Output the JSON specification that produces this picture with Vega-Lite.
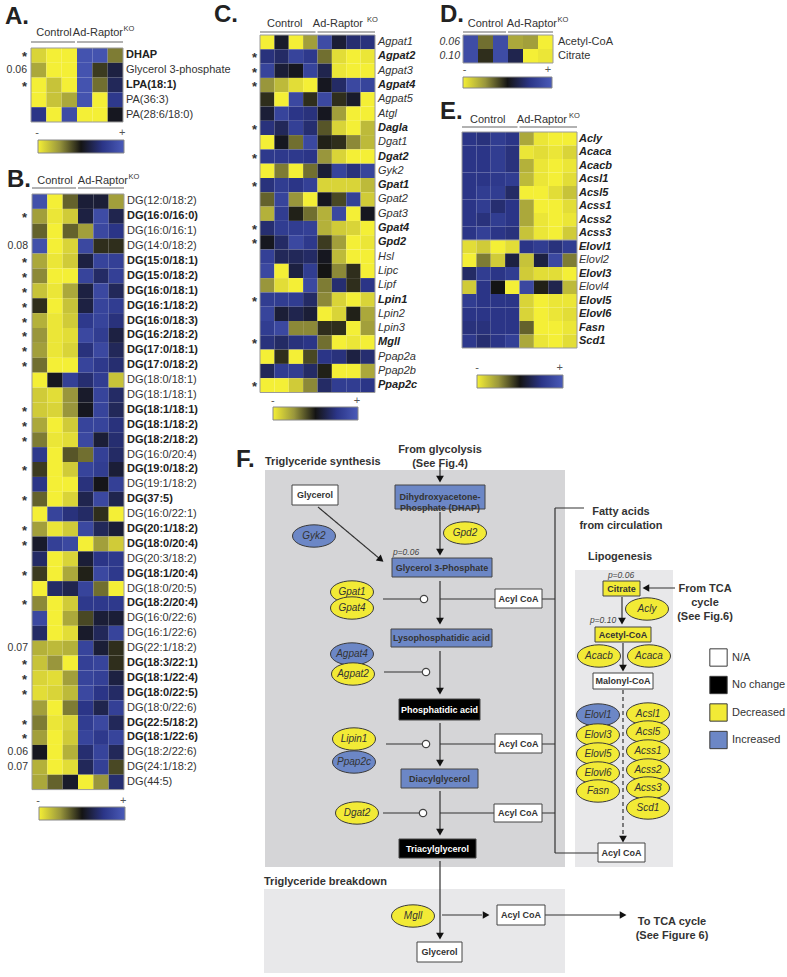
{
"$schema":"https://vega.github.io/schema/vega-lite/v6.json",
"width":787,"height":977,"padding":0,"autosize":{"type":"none"},
"background":"#ffffff",
"config":{"view":{"stroke":null},"font":"Liberation Sans","text":{"font":"Liberation Sans"}},
"datasets":{
"a_cells":[{"r":1,"c":1,"v":-0.85},{"r":1,"c":2,"v":-1},{"r":1,"c":3,"v":-1},{"r":1,"c":4,"v":0.9},{"r":1,"c":5,"v":0.9},{"r":1,"c":6,"v":-0.4},
{"r":2,"c":1,"v":-0.6},{"r":2,"c":2,"v":-1},{"r":2,"c":3,"v":-1},{"r":2,"c":4,"v":0.9},{"r":2,"c":5,"v":-0.15},{"r":2,"c":6,"v":0.2},
{"r":3,"c":1,"v":-1},{"r":3,"c":2,"v":-0.75},{"r":3,"c":3,"v":-1},{"r":3,"c":4,"v":0.9},{"r":3,"c":5,"v":-0.35},{"r":3,"c":6,"v":0.3},
{"r":4,"c":1,"v":-1},{"r":4,"c":2,"v":-0.75},{"r":4,"c":3,"v":-0.6},{"r":4,"c":4,"v":0.9},{"r":4,"c":5,"v":-1},{"r":4,"c":6,"v":0.55},
{"r":5,"c":1,"v":0.5},{"r":5,"c":2,"v":-1},{"r":5,"c":3,"v":0.8},{"r":5,"c":4,"v":-1},{"r":5,"c":5,"v":-1},{"r":5,"c":6,"v":0.05}],
"a_rows":[{"r":1,"name":"DHAP","p":"*","sig":1},{"r":2,"name":"Glycerol 3-phosphate","p":"0.06","sig":0},{"r":3,"name":"LPA(18:1)","p":"*","sig":1},{"r":4,"name":"PA(36:3)","p":"","sig":0},{"r":5,"name":"PA(28:6/18:0)","p":"","sig":0}],
"b_cells":[
{"r":1,"c":1,"v":0.85},{"r":1,"c":2,"v":-1},{"r":1,"c":3,"v":-0.3},{"r":1,"c":4,"v":0.15},{"r":1,"c":5,"v":0.15},{"r":1,"c":6,"v":-0.55},
{"r":2,"c":1,"v":-0.55},{"r":2,"c":2,"v":-0.95},{"r":2,"c":3,"v":-0.8},{"r":2,"c":4,"v":0.2},{"r":2,"c":5,"v":0.8},{"r":2,"c":6,"v":0.25},
{"r":3,"c":1,"v":-0.3},{"r":3,"c":2,"v":-1},{"r":3,"c":3,"v":-0.3},{"r":3,"c":4,"v":-0.55},{"r":3,"c":5,"v":0.75},{"r":3,"c":6,"v":0.5},
{"r":4,"c":1,"v":0.85},{"r":4,"c":2,"v":-1},{"r":4,"c":3,"v":-0.85},{"r":4,"c":4,"v":0.75},{"r":4,"c":5,"v":-0.1},{"r":4,"c":6,"v":-0.1},
{"r":5,"c":1,"v":-0.6},{"r":5,"c":2,"v":-0.95},{"r":5,"c":3,"v":-0.8},{"r":5,"c":4,"v":0.2},{"r":5,"c":5,"v":0.7},{"r":5,"c":6,"v":0.65},
{"r":6,"c":1,"v":-0.45},{"r":6,"c":2,"v":-1},{"r":6,"c":3,"v":-1},{"r":6,"c":4,"v":0.7},{"r":6,"c":5,"v":0.35},{"r":6,"c":6,"v":0.65},
{"r":7,"c":1,"v":-0.75},{"r":7,"c":2,"v":-0.95},{"r":7,"c":3,"v":-0.6},{"r":7,"c":4,"v":0.2},{"r":7,"c":5,"v":0.75},{"r":7,"c":6,"v":0.3},
{"r":8,"c":1,"v":-0.1},{"r":8,"c":2,"v":-1},{"r":8,"c":3,"v":-0.75},{"r":8,"c":4,"v":0.2},{"r":8,"c":5,"v":0.7},{"r":8,"c":6,"v":0.6},
{"r":9,"c":1,"v":-0.65},{"r":9,"c":2,"v":-0.95},{"r":9,"c":3,"v":-0.8},{"r":9,"c":4,"v":0.55},{"r":9,"c":5,"v":0.7},{"r":9,"c":6,"v":0.45},
{"r":10,"c":1,"v":-0.5},{"r":10,"c":2,"v":-0.95},{"r":10,"c":3,"v":-0.9},{"r":10,"c":4,"v":0.75},{"r":10,"c":5,"v":0.6},{"r":10,"c":6,"v":0.2},
{"r":11,"c":1,"v":-0.55},{"r":11,"c":2,"v":-0.95},{"r":11,"c":3,"v":-0.85},{"r":11,"c":4,"v":0.45},{"r":11,"c":5,"v":0.75},{"r":11,"c":6,"v":0.3},
{"r":12,"c":1,"v":-0.35},{"r":12,"c":2,"v":-1},{"r":12,"c":3,"v":-1},{"r":12,"c":4,"v":0.7},{"r":12,"c":5,"v":0.55},{"r":12,"c":6,"v":0.4},
{"r":13,"c":1,"v":-1},{"r":13,"c":2,"v":0.05},{"r":13,"c":3,"v":0.65},{"r":13,"c":4,"v":0.4},{"r":13,"c":5,"v":0.6},{"r":13,"c":6,"v":-0.75},
{"r":14,"c":1,"v":-0.8},{"r":14,"c":2,"v":-0.9},{"r":14,"c":3,"v":-0.5},{"r":14,"c":4,"v":0.1},{"r":14,"c":5,"v":0.7},{"r":14,"c":6,"v":0.35},
{"r":15,"c":1,"v":-0.8},{"r":15,"c":2,"v":-0.85},{"r":15,"c":3,"v":-0.5},{"r":15,"c":4,"v":0.05},{"r":15,"c":5,"v":0.7},{"r":15,"c":6,"v":0.3},
{"r":16,"c":1,"v":-0.6},{"r":16,"c":2,"v":-1},{"r":16,"c":3,"v":-0.8},{"r":16,"c":4,"v":0.7},{"r":16,"c":5,"v":0.7},{"r":16,"c":6,"v":0.45},
{"r":17,"c":1,"v":-0.4},{"r":17,"c":2,"v":-0.95},{"r":17,"c":3,"v":-0.9},{"r":17,"c":4,"v":0.75},{"r":17,"c":5,"v":0.15},{"r":17,"c":6,"v":0.4},
{"r":18,"c":1,"v":0.55},{"r":18,"c":2,"v":-1},{"r":18,"c":3,"v":-0.25},{"r":18,"c":4,"v":-0.35},{"r":18,"c":5,"v":0.65},{"r":18,"c":6,"v":0.35},
{"r":19,"c":1,"v":-0.15},{"r":19,"c":2,"v":-1},{"r":19,"c":3,"v":-0.8},{"r":19,"c":4,"v":0.7},{"r":19,"c":5,"v":0.6},{"r":19,"c":6,"v":0.15},
{"r":20,"c":1,"v":0.5},{"r":20,"c":2,"v":-1},{"r":20,"c":3,"v":-1},{"r":20,"c":4,"v":0.45},{"r":20,"c":5,"v":0.02},{"r":20,"c":6,"v":0.65},
{"r":21,"c":1,"v":-0.3},{"r":21,"c":2,"v":-1},{"r":21,"c":3,"v":-0.85},{"r":21,"c":4,"v":0.25},{"r":21,"c":5,"v":0.75},{"r":21,"c":6,"v":0.25},
{"r":22,"c":1,"v":-1},{"r":22,"c":2,"v":0.7},{"r":22,"c":3,"v":0.45},{"r":22,"c":4,"v":0.35},{"r":22,"c":5,"v":-0.1},{"r":22,"c":6,"v":-1},
{"r":23,"c":1,"v":-0.55},{"r":23,"c":2,"v":-0.95},{"r":23,"c":3,"v":-0.8},{"r":23,"c":4,"v":0.75},{"r":23,"c":5,"v":0.3},{"r":23,"c":6,"v":0.15},
{"r":24,"c":1,"v":0.1},{"r":24,"c":2,"v":0.65},{"r":24,"c":3,"v":0.75},{"r":24,"c":4,"v":-1},{"r":24,"c":5,"v":-0.55},{"r":24,"c":6,"v":-0.8},
{"r":25,"c":1,"v":0.35},{"r":25,"c":2,"v":-1},{"r":25,"c":3,"v":-0.85},{"r":25,"c":4,"v":0.15},{"r":25,"c":5,"v":0.5},{"r":25,"c":6,"v":0.55},
{"r":26,"c":1,"v":-0.15},{"r":26,"c":2,"v":-1},{"r":26,"c":3,"v":-0.6},{"r":26,"c":4,"v":-0.05},{"r":26,"c":5,"v":0.75},{"r":26,"c":6,"v":0.55},
{"r":27,"c":1,"v":-1},{"r":27,"c":2,"v":0.35},{"r":27,"c":3,"v":0.25},{"r":27,"c":4,"v":0.7},{"r":27,"c":5,"v":-0.35},{"r":27,"c":6,"v":-1},
{"r":28,"c":1,"v":-0.45},{"r":28,"c":2,"v":-1},{"r":28,"c":3,"v":-0.8},{"r":28,"c":4,"v":0.55},{"r":28,"c":5,"v":0.55},{"r":28,"c":6,"v":0.55},
{"r":29,"c":1,"v":0.75},{"r":29,"c":2,"v":-1},{"r":29,"c":3,"v":-0.6},{"r":29,"c":4,"v":-0.2},{"r":29,"c":5,"v":0.15},{"r":29,"c":6,"v":0.15},
{"r":30,"c":1,"v":0.35},{"r":30,"c":2,"v":-1},{"r":30,"c":3,"v":-0.9},{"r":30,"c":4,"v":0.1},{"r":30,"c":5,"v":0.3},{"r":30,"c":6,"v":0.7},
{"r":31,"c":1,"v":-0.65},{"r":31,"c":2,"v":-0.7},{"r":31,"c":3,"v":-0.65},{"r":31,"c":4,"v":0.7},{"r":31,"c":5,"v":0.15},{"r":31,"c":6,"v":-0.1},
{"r":32,"c":1,"v":-0.75},{"r":32,"c":2,"v":-0.5},{"r":32,"c":3,"v":-1},{"r":32,"c":4,"v":0.65},{"r":32,"c":5,"v":0.7},{"r":32,"c":6,"v":-0.1},
{"r":33,"c":1,"v":-0.85},{"r":33,"c":2,"v":-0.9},{"r":33,"c":3,"v":-0.55},{"r":33,"c":4,"v":0.7},{"r":33,"c":5,"v":0.65},{"r":33,"c":6,"v":0.2},
{"r":34,"c":1,"v":-0.9},{"r":34,"c":2,"v":-0.85},{"r":34,"c":3,"v":-0.7},{"r":34,"c":4,"v":0.75},{"r":34,"c":5,"v":0.5},{"r":34,"c":6,"v":0.35},
{"r":35,"c":1,"v":-0.55},{"r":35,"c":2,"v":-1},{"r":35,"c":3,"v":-0.4},{"r":35,"c":4,"v":0.5},{"r":35,"c":5,"v":0.25},{"r":35,"c":6,"v":0.65},
{"r":36,"c":1,"v":-0.4},{"r":36,"c":2,"v":-0.95},{"r":36,"c":3,"v":-0.85},{"r":36,"c":4,"v":0.6},{"r":36,"c":5,"v":0.75},{"r":36,"c":6,"v":0.3},
{"r":37,"c":1,"v":-0.55},{"r":37,"c":2,"v":-1},{"r":37,"c":3,"v":-0.8},{"r":37,"c":4,"v":0.7},{"r":37,"c":5,"v":0.55},{"r":37,"c":6,"v":0.7},
{"r":38,"c":1,"v":0.05},{"r":38,"c":2,"v":-1},{"r":38,"c":3,"v":-0.65},{"r":38,"c":4,"v":0.4},{"r":38,"c":5,"v":0.7},{"r":38,"c":6,"v":0.3},
{"r":39,"c":1,"v":-0.65},{"r":39,"c":2,"v":-1},{"r":39,"c":3,"v":-0.9},{"r":39,"c":4,"v":0.3},{"r":39,"c":5,"v":0.65},{"r":39,"c":6,"v":-0.2},
{"r":40,"c":1,"v":-0.6},{"r":40,"c":2,"v":-0.3},{"r":40,"c":3,"v":0.1},{"r":40,"c":4,"v":-1},{"r":40,"c":5,"v":-0.5},{"r":40,"c":6,"v":0.4}],
"b_rows":[{"r":1,"name":"DG(12:0/18:2)","p":"","sig":0},{"r":2,"name":"DG(16:0/16:0)","p":"*","sig":1},{"r":3,"name":"DG(16:0/16:1)","p":"","sig":0},{"r":4,"name":"DG(14:0/18:2)","p":"0.08","sig":0},{"r":5,"name":"DG(15:0/18:1)","p":"*","sig":1},{"r":6,"name":"DG(15:0/18:2)","p":"*","sig":1},{"r":7,"name":"DG(16:0/18:1)","p":"*","sig":1},{"r":8,"name":"DG(16:1/18:2)","p":"*","sig":1},{"r":9,"name":"DG(16:0/18:3)","p":"*","sig":1},{"r":10,"name":"DG(16:2/18:2)","p":"*","sig":1},{"r":11,"name":"DG(17:0/18:1)","p":"*","sig":1},{"r":12,"name":"DG(17:0/18:2)","p":"*","sig":1},{"r":13,"name":"DG(18:0/18:1)","p":"","sig":0},{"r":14,"name":"DG(18:1/18:1)","p":"","sig":0},{"r":15,"name":"DG(18:1/18:1)","p":"*","sig":1},{"r":16,"name":"DG(18:1/18:2)","p":"*","sig":1},{"r":17,"name":"DG(18:2/18:2)","p":"*","sig":1},{"r":18,"name":"DG(16:0/20:4)","p":"","sig":0},{"r":19,"name":"DG(19:0/18:2)","p":"*","sig":1},{"r":20,"name":"DG(19:1/18:2)","p":"","sig":0},{"r":21,"name":"DG(37:5)","p":"*","sig":1},{"r":22,"name":"DG(16:0/22:1)","p":"","sig":0},{"r":23,"name":"DG(20:1/18:2)","p":"*","sig":1},{"r":24,"name":"DG(18:0/20:4)","p":"*","sig":1},{"r":25,"name":"DG(20:3/18:2)","p":"","sig":0},{"r":26,"name":"DG(18:1/20:4)","p":"*","sig":1},{"r":27,"name":"DG(18:0/20:5)","p":"","sig":0},{"r":28,"name":"DG(18:2/20:4)","p":"*","sig":1},{"r":29,"name":"DG(16:0/22:6)","p":"","sig":0},{"r":30,"name":"DG(16:1/22:6)","p":"","sig":0},{"r":31,"name":"DG(22:1/18:2)","p":"0.07","sig":0},{"r":32,"name":"DG(18:3/22:1)","p":"*","sig":1},{"r":33,"name":"DG(18:1/22:4)","p":"*","sig":1},{"r":34,"name":"DG(18:0/22:5)","p":"*","sig":1},{"r":35,"name":"DG(18:0/22:6)","p":"","sig":0},{"r":36,"name":"DG(22:5/18:2)","p":"*","sig":1},{"r":37,"name":"DG(18:1/22:6)","p":"*","sig":1},{"r":38,"name":"DG(18:2/22:6)","p":"0.06","sig":0},{"r":39,"name":"DG(24:1/18:2)","p":"0.07","sig":0},{"r":40,"name":"DG(44:5)","p":"","sig":0}],
"c_cells":[
{"r":1,"c":1,"v":-1},{"r":1,"c":2,"v":0.1},{"r":1,"c":3,"v":-1},{"r":1,"c":4,"v":-0.55},{"r":1,"c":5,"v":0.8},{"r":1,"c":6,"v":0.15},{"r":1,"c":7,"v":0.4},{"r":1,"c":8,"v":0.45},
{"r":2,"c":1,"v":0.45},{"r":2,"c":2,"v":0.35},{"r":2,"c":3,"v":0.7},{"r":2,"c":4,"v":0.55},{"r":2,"c":5,"v":-0.35},{"r":2,"c":6,"v":-0.9},{"r":2,"c":7,"v":-1},{"r":2,"c":8,"v":-0.95},
{"r":3,"c":1,"v":0.7},{"r":3,"c":2,"v":0.15},{"r":3,"c":3,"v":0.05},{"r":3,"c":4,"v":0.7},{"r":3,"c":5,"v":0.25},{"r":3,"c":6,"v":-0.95},{"r":3,"c":7,"v":-1},{"r":3,"c":8,"v":-1},
{"r":4,"c":1,"v":-0.5},{"r":4,"c":2,"v":-0.7},{"r":4,"c":3,"v":-0.9},{"r":4,"c":4,"v":-1},{"r":4,"c":5,"v":0.05},{"r":4,"c":6,"v":0.35},{"r":4,"c":7,"v":0.75},{"r":4,"c":8,"v":0.7},
{"r":5,"c":1,"v":-0.1},{"r":5,"c":2,"v":-1},{"r":5,"c":3,"v":0.75},{"r":5,"c":4,"v":-0.1},{"r":5,"c":5,"v":0.75},{"r":5,"c":6,"v":-0.1},{"r":5,"c":7,"v":0.1},{"r":5,"c":8,"v":-1},
{"r":6,"c":1,"v":0.15},{"r":6,"c":2,"v":0.7},{"r":6,"c":3,"v":0.5},{"r":6,"c":4,"v":0.45},{"r":6,"c":5,"v":0.05},{"r":6,"c":6,"v":-0.55},{"r":6,"c":7,"v":-1},{"r":6,"c":8,"v":-1},
{"r":7,"c":1,"v":0.45},{"r":7,"c":2,"v":0.3},{"r":7,"c":3,"v":0.65},{"r":7,"c":4,"v":0.4},{"r":7,"c":5,"v":-0.25},{"r":7,"c":6,"v":-0.85},{"r":7,"c":7,"v":-1},{"r":7,"c":8,"v":-0.7},
{"r":8,"c":1,"v":-1},{"r":8,"c":2,"v":0.05},{"r":8,"c":3,"v":-0.35},{"r":8,"c":4,"v":0.75},{"r":8,"c":5,"v":-0.05},{"r":8,"c":6,"v":-0.1},{"r":8,"c":7,"v":-0.45},{"r":8,"c":8,"v":-0.7},
{"r":9,"c":1,"v":0.55},{"r":9,"c":2,"v":0.55},{"r":9,"c":3,"v":0.55},{"r":9,"c":4,"v":0.5},{"r":9,"c":5,"v":-0.5},{"r":9,"c":6,"v":-0.85},{"r":9,"c":7,"v":-1},{"r":9,"c":8,"v":-1},
{"r":10,"c":1,"v":-1},{"r":10,"c":2,"v":-0.4},{"r":10,"c":3,"v":-1},{"r":10,"c":4,"v":-0.35},{"r":10,"c":5,"v":0.15},{"r":10,"c":6,"v":0.7},{"r":10,"c":7,"v":0.45},{"r":10,"c":8,"v":0.7},
{"r":11,"c":1,"v":0.45},{"r":11,"c":2,"v":0.6},{"r":11,"c":3,"v":0.5},{"r":11,"c":4,"v":0.65},{"r":11,"c":5,"v":-0.85},{"r":11,"c":6,"v":-0.85},{"r":11,"c":7,"v":-0.85},{"r":11,"c":8,"v":-0.7},
{"r":12,"c":1,"v":-0.3},{"r":12,"c":2,"v":0.7},{"r":12,"c":3,"v":-0.5},{"r":12,"c":4,"v":-1},{"r":12,"c":5,"v":0.05},{"r":12,"c":6,"v":-0.2},{"r":12,"c":7,"v":0.65},{"r":12,"c":8,"v":-0.8},
{"r":13,"c":1,"v":-0.65},{"r":13,"c":2,"v":0.6},{"r":13,"c":3,"v":-0.05},{"r":13,"c":4,"v":-0.35},{"r":13,"c":5,"v":-0.65},{"r":13,"c":6,"v":0.75},{"r":13,"c":7,"v":-1},{"r":13,"c":8,"v":0.05},
{"r":14,"c":1,"v":0.4},{"r":14,"c":2,"v":0.6},{"r":14,"c":3,"v":0.6},{"r":14,"c":4,"v":0.65},{"r":14,"c":5,"v":-0.65},{"r":14,"c":6,"v":-0.8},{"r":14,"c":7,"v":-0.85},{"r":14,"c":8,"v":-1},
{"r":15,"c":1,"v":0.05},{"r":15,"c":2,"v":0.35},{"r":15,"c":3,"v":0.75},{"r":15,"c":4,"v":0.55},{"r":15,"c":5,"v":-0.15},{"r":15,"c":6,"v":-0.55},{"r":15,"c":7,"v":-1},{"r":15,"c":8,"v":-0.95},
{"r":16,"c":1,"v":0.65},{"r":16,"c":2,"v":0.3},{"r":16,"c":3,"v":0.3},{"r":16,"c":4,"v":0.35},{"r":16,"c":5,"v":0.05},{"r":16,"c":6,"v":-0.7},{"r":16,"c":7,"v":-1},{"r":16,"c":8,"v":-1},
{"r":17,"c":1,"v":0.75},{"r":17,"c":2,"v":-1},{"r":17,"c":3,"v":0.2},{"r":17,"c":4,"v":0.6},{"r":17,"c":5,"v":0},{"r":17,"c":6,"v":-0.45},{"r":17,"c":7,"v":-0.1},{"r":17,"c":8,"v":-1},
{"r":18,"c":1,"v":-0.5},{"r":18,"c":2,"v":-0.9},{"r":18,"c":3,"v":-1},{"r":18,"c":4,"v":0.75},{"r":18,"c":5,"v":-0.4},{"r":18,"c":6,"v":0.4},{"r":18,"c":7,"v":-0.1},{"r":18,"c":8,"v":0.5},
{"r":19,"c":1,"v":0.6},{"r":19,"c":2,"v":0.6},{"r":19,"c":3,"v":0.6},{"r":19,"c":4,"v":0.35},{"r":19,"c":5,"v":-0.45},{"r":19,"c":6,"v":-0.85},{"r":19,"c":7,"v":-1},{"r":19,"c":8,"v":-0.85},
{"r":20,"c":1,"v":0.7},{"r":20,"c":2,"v":0.15},{"r":20,"c":3,"v":0.25},{"r":20,"c":4,"v":0.15},{"r":20,"c":5,"v":-1},{"r":20,"c":6,"v":-0.85},{"r":20,"c":7,"v":-0.05},{"r":20,"c":8,"v":-0.6},
{"r":21,"c":1,"v":0.6},{"r":21,"c":2,"v":0.75},{"r":21,"c":3,"v":-0.45},{"r":21,"c":4,"v":-0.45},{"r":21,"c":5,"v":-0.1},{"r":21,"c":6,"v":-0.1},{"r":21,"c":7,"v":-1},{"r":21,"c":8,"v":-0.55},
{"r":22,"c":1,"v":0.45},{"r":22,"c":2,"v":0.35},{"r":22,"c":3,"v":0.45},{"r":22,"c":4,"v":0.5},{"r":22,"c":5,"v":-0.35},{"r":22,"c":6,"v":-1},{"r":22,"c":7,"v":-0.95},{"r":22,"c":8,"v":-1},
{"r":23,"c":1,"v":-1},{"r":23,"c":2,"v":-0.1},{"r":23,"c":3,"v":-1},{"r":23,"c":4,"v":-0.2},{"r":23,"c":5,"v":0.5},{"r":23,"c":6,"v":0.45},{"r":23,"c":7,"v":0.2},{"r":23,"c":8,"v":0.4},
{"r":24,"c":1,"v":0.3},{"r":24,"c":2,"v":0.6},{"r":24,"c":3,"v":0.6},{"r":24,"c":4,"v":0.35},{"r":24,"c":5,"v":-0.05},{"r":24,"c":6,"v":-1},{"r":24,"c":7,"v":-1},{"r":24,"c":8,"v":-0.6},
{"r":25,"c":1,"v":-1},{"r":25,"c":2,"v":-1},{"r":25,"c":3,"v":-0.8},{"r":25,"c":4,"v":-0.45},{"r":25,"c":5,"v":0.35},{"r":25,"c":6,"v":0.6},{"r":25,"c":7,"v":0.6},{"r":25,"c":8,"v":0.5}],
"c_rows":[{"r":1,"name":"Agpat1","p":"","sig":0},{"r":2,"name":"Agpat2","p":"*","sig":1},{"r":3,"name":"Agpat3","p":"*","sig":0},{"r":4,"name":"Agpat4","p":"*","sig":1},{"r":5,"name":"Agpat5","p":"","sig":0},{"r":6,"name":"Atgl","p":"","sig":0},{"r":7,"name":"Dagla","p":"*","sig":1},{"r":8,"name":"Dgat1","p":"","sig":0},{"r":9,"name":"Dgat2","p":"*","sig":1},{"r":10,"name":"Gyk2","p":"","sig":0},{"r":11,"name":"Gpat1","p":"*","sig":1},{"r":12,"name":"Gpat2","p":"","sig":0},{"r":13,"name":"Gpat3","p":"","sig":0},{"r":14,"name":"Gpat4","p":"*","sig":1},{"r":15,"name":"Gpd2","p":"*","sig":1},{"r":16,"name":"Hsl","p":"","sig":0},{"r":17,"name":"Lipc","p":"","sig":0},{"r":18,"name":"Lipf","p":"","sig":0},{"r":19,"name":"Lpin1","p":"*","sig":1},{"r":20,"name":"Lpin2","p":"","sig":0},{"r":21,"name":"Lpin3","p":"","sig":0},{"r":22,"name":"Mgll","p":"*","sig":1},{"r":23,"name":"Ppap2a","p":"","sig":0},{"r":24,"name":"Ppap2b","p":"","sig":0},{"r":25,"name":"Ppap2c","p":"*","sig":1}],
"d_cells":[{"r":1,"c":1,"v":0.8},{"r":1,"c":2,"v":-0.35},{"r":1,"c":3,"v":0.8},{"r":1,"c":4,"v":-0.6},{"r":1,"c":5,"v":-0.55},{"r":1,"c":6,"v":-1},
{"r":2,"c":1,"v":0.8},{"r":2,"c":2,"v":-0.1},{"r":2,"c":3,"v":0.8},{"r":2,"c":4,"v":0.25},{"r":2,"c":5,"v":-1},{"r":2,"c":6,"v":-0.95}],
"d_rows":[{"r":1,"name":"Acetyl-CoA","p":"0.06","sig":0},{"r":2,"name":"Citrate","p":"0.10","sig":0}],
"e_cells":[
{"r":1,"c":1,"v":0.5},{"r":1,"c":2,"v":0.45},{"r":1,"c":3,"v":0.6},{"r":1,"c":4,"v":0.5},{"r":1,"c":5,"v":-0.6},{"r":1,"c":6,"v":-0.95},{"r":1,"c":7,"v":-1},{"r":1,"c":8,"v":-1},
{"r":2,"c":1,"v":0.5},{"r":2,"c":2,"v":0.5},{"r":2,"c":3,"v":0.6},{"r":2,"c":4,"v":0.45},{"r":2,"c":5,"v":-0.95},{"r":2,"c":6,"v":-0.9},{"r":2,"c":7,"v":-0.95},{"r":2,"c":8,"v":-0.85},
{"r":3,"c":1,"v":0.5},{"r":3,"c":2,"v":0.5},{"r":3,"c":3,"v":0.6},{"r":3,"c":4,"v":0.45},{"r":3,"c":5,"v":-0.65},{"r":3,"c":6,"v":-0.95},{"r":3,"c":7,"v":-1},{"r":3,"c":8,"v":-0.95},
{"r":4,"c":1,"v":0.5},{"r":4,"c":2,"v":0.5},{"r":4,"c":3,"v":0.55},{"r":4,"c":4,"v":0.6},{"r":4,"c":5,"v":-0.7},{"r":4,"c":6,"v":-0.95},{"r":4,"c":7,"v":-1},{"r":4,"c":8,"v":-0.9},
{"r":5,"c":1,"v":0.5},{"r":5,"c":2,"v":0.6},{"r":5,"c":3,"v":0.6},{"r":5,"c":4,"v":0.35},{"r":5,"c":5,"v":-1},{"r":5,"c":6,"v":-1},{"r":5,"c":7,"v":-0.9},{"r":5,"c":8,"v":-0.75},
{"r":6,"c":1,"v":0.5},{"r":6,"c":2,"v":0.6},{"r":6,"c":3,"v":0.4},{"r":6,"c":4,"v":0.5},{"r":6,"c":5,"v":-0.6},{"r":6,"c":6,"v":-1},{"r":6,"c":7,"v":-1},{"r":6,"c":8,"v":-0.9},
{"r":7,"c":1,"v":0.5},{"r":7,"c":2,"v":0.45},{"r":7,"c":3,"v":0.6},{"r":7,"c":4,"v":0.5},{"r":7,"c":5,"v":-0.6},{"r":7,"c":6,"v":-0.95},{"r":7,"c":7,"v":-1},{"r":7,"c":8,"v":-0.95},
{"r":8,"c":1,"v":0.5},{"r":8,"c":2,"v":0.65},{"r":8,"c":3,"v":0.5},{"r":8,"c":4,"v":0.45},{"r":8,"c":5,"v":-0.75},{"r":8,"c":6,"v":-0.95},{"r":8,"c":7,"v":-1},{"r":8,"c":8,"v":-0.8},
{"r":9,"c":1,"v":-0.9},{"r":9,"c":2,"v":-0.8},{"r":9,"c":3,"v":-1},{"r":9,"c":4,"v":-0.9},{"r":9,"c":5,"v":0.5},{"r":9,"c":6,"v":0.6},{"r":9,"c":7,"v":0.45},{"r":9,"c":8,"v":0.6},
{"r":10,"c":1,"v":-1},{"r":10,"c":2,"v":-0.4},{"r":10,"c":3,"v":-0.8},{"r":10,"c":4,"v":0.2},{"r":10,"c":5,"v":-0.75},{"r":10,"c":6,"v":0.2},{"r":10,"c":7,"v":0.75},{"r":10,"c":8,"v":-0.4},
{"r":11,"c":1,"v":0.35},{"r":11,"c":2,"v":0.6},{"r":11,"c":3,"v":0.5},{"r":11,"c":4,"v":0.6},{"r":11,"c":5,"v":-0.8},{"r":11,"c":6,"v":-0.9},{"r":11,"c":7,"v":-0.9},{"r":11,"c":8,"v":-1},
{"r":12,"c":1,"v":-0.8},{"r":12,"c":2,"v":0.5},{"r":12,"c":3,"v":0},{"r":12,"c":4,"v":-1},{"r":12,"c":5,"v":0.75},{"r":12,"c":6,"v":-0.05},{"r":12,"c":7,"v":0.25},{"r":12,"c":8,"v":-0.7},
{"r":13,"c":1,"v":0.6},{"r":13,"c":2,"v":0.5},{"r":13,"c":3,"v":0.5},{"r":13,"c":4,"v":0.5},{"r":13,"c":5,"v":-0.85},{"r":13,"c":6,"v":-1},{"r":13,"c":7,"v":-0.95},{"r":13,"c":8,"v":-0.95},
{"r":14,"c":1,"v":0.5},{"r":14,"c":2,"v":0.5},{"r":14,"c":3,"v":0.5},{"r":14,"c":4,"v":0.5},{"r":14,"c":5,"v":-0.85},{"r":14,"c":6,"v":-1},{"r":14,"c":7,"v":-0.95},{"r":14,"c":8,"v":-0.9},
{"r":15,"c":1,"v":0.45},{"r":15,"c":2,"v":0.45},{"r":15,"c":3,"v":0.5},{"r":15,"c":4,"v":0.5},{"r":15,"c":5,"v":-0.3},{"r":15,"c":6,"v":-1},{"r":15,"c":7,"v":-1},{"r":15,"c":8,"v":-0.95},
{"r":16,"c":1,"v":0.55},{"r":16,"c":2,"v":0.4},{"r":16,"c":3,"v":0.5},{"r":16,"c":4,"v":0.65},{"r":16,"c":5,"v":-0.6},{"r":16,"c":6,"v":-0.95},{"r":16,"c":7,"v":-1},{"r":16,"c":8,"v":-0.9}],
"e_rows":[{"r":1,"name":"Acly","sig":1},{"r":2,"name":"Acaca","sig":1},{"r":3,"name":"Acacb","sig":1},{"r":4,"name":"Acsl1","sig":1},{"r":5,"name":"Acsl5","sig":1},{"r":6,"name":"Acss1","sig":1},{"r":7,"name":"Acss2","sig":1},{"r":8,"name":"Acss3","sig":1},{"r":9,"name":"Elovl1","sig":1},{"r":10,"name":"Elovl2","sig":0},{"r":11,"name":"Elovl3","sig":1},{"r":12,"name":"Elovl4","sig":0},{"r":13,"name":"Elovl5","sig":1},{"r":14,"name":"Elovl6","sig":1},{"r":15,"name":"Fasn","sig":1},{"r":16,"name":"Scd1","sig":1}],
"f_bg":[{"kind":"synthesis","x":265,"x2":565,"y":470,"y2":867},{"kind":"breakdown","x":264,"x2":565,"y":889,"y2":973},{"kind":"lipogenesis","x":575,"x2":673,"y":570,"y2":867}],
"f_lines":[{"x":440,"y":465,"x2":440,"y2":478,"style":"solid"},{"x":440,"y":512,"x2":440,"y2":549,"style":"solid"},{"x":318,"y":507,"x2":380,"y2":559,"style":"solid"},{"x":440,"y":581,"x2":440,"y2":618,"style":"solid"},{"x":440,"y":651,"x2":440,"y2":688,"style":"solid"},{"x":440,"y":723,"x2":440,"y2":761,"style":"solid"},{"x":440,"y":791,"x2":440,"y2":829,"style":"solid"},{"x":440,"y":861,"x2":440,"y2":933,"style":"solid"},
{"x":383,"y":599,"x2":420,"y2":599,"style":"solid"},{"x":384,"y":672,"x2":422,"y2":672,"style":"solid"},{"x":386,"y":744,"x2":422,"y2":744,"style":"solid"},{"x":383,"y":813,"x2":419,"y2":813,"style":"solid"},
{"x":440,"y":599,"x2":495,"y2":599,"style":"solid"},{"x":440,"y":744,"x2":495,"y2":744,"style":"solid"},{"x":440,"y":813,"x2":494,"y2":813,"style":"solid"},
{"x":542,"y":599,"x2":555,"y2":599,"style":"solid"},{"x":542,"y":744,"x2":555,"y2":744,"style":"solid"},{"x":542,"y":813,"x2":555,"y2":813,"style":"solid"},
{"x":555,"y":508,"x2":555,"y2":853,"style":"solid"},{"x":555,"y":508,"x2":584,"y2":508,"style":"solid"},{"x":555,"y":853,"x2":598,"y2":853,"style":"solid"},
{"x":442,"y":915,"x2":482,"y2":915,"style":"solid"},{"x":545,"y":915,"x2":620,"y2":915,"style":"solid"},
{"x":675,"y":588,"x2":648,"y2":588,"style":"solid"},{"x":622,"y":597,"x2":622,"y2":618,"style":"solid"},{"x":623,"y":643,"x2":623,"y2":665,"style":"solid"},{"x":623,"y":690,"x2":623,"y2":834,"style":"dashed"}],
"f_heads":[{"x":440,"y":478,"a":180},{"x":440,"y":551,"a":180},{"x":380,"y":559,"a":130},{"x":440,"y":620,"a":180},{"x":440,"y":690,"a":180},{"x":440,"y":762,"a":180},{"x":440,"y":831,"a":180},{"x":440,"y":935,"a":180},{"x":485,"y":915,"a":90},{"x":622,"y":915,"a":90},{"x":647,"y":588,"a":270},{"x":622,"y":620,"a":180},{"x":623,"y":667,"a":180},{"x":623,"y":838,"a":180}],
"f_circ":[{"x":424,"y":599},{"x":426,"y":672},{"x":426,"y":744},{"x":423,"y":813}],
"f_boxes":[{"label":"Glycerol","x":292,"x2":338,"y":485,"y2":505,"cx":315,"cy":495,"state":"N/A"},
{"label":"Dihydroxyacetone-\nPhosphate (DHAP)","x":395,"x2":485,"y":485,"y2":509,"cx":440,"cy":497,"state":"Increased"},
{"label":"Glycerol 3-Phosphate","x":392,"x2":492,"y":558,"y2":577,"cx":442,"cy":567.5,"state":"Increased"},
{"label":"Lysophosphatidic acid","x":391,"x2":492,"y":629,"y2":647,"cx":441.5,"cy":638,"state":"Increased"},
{"label":"Phosphatidic acid","x":399,"x2":480,"y":699,"y2":720,"cx":439.5,"cy":709.5,"state":"No change"},
{"label":"Diacylglycerol","x":401,"x2":478,"y":769,"y2":788,"cx":439.5,"cy":778.5,"state":"Increased"},
{"label":"Triacylglycerol","x":399,"x2":476,"y":839,"y2":858,"cx":437.5,"cy":848.5,"state":"No change"},
{"label":"Glycerol","x":417,"x2":462,"y":942,"y2":962,"cx":439.5,"cy":952,"state":"N/A"},
{"label":"Acyl CoA","x":495,"x2":542,"y":589,"y2":608,"cx":518.5,"cy":598.5,"state":"N/A"},
{"label":"Acyl CoA","x":495,"x2":542,"y":734,"y2":753,"cx":518.5,"cy":743.5,"state":"N/A"},
{"label":"Acyl CoA","x":494,"x2":542,"y":804,"y2":822,"cx":518,"cy":813,"state":"N/A"},
{"label":"Acyl CoA","x":497,"x2":545,"y":905,"y2":925,"cx":521,"cy":915,"state":"N/A"},
{"label":"Citrate","x":603,"x2":640,"y":581,"y2":596,"cx":621.5,"cy":588.5,"state":"Decreased"},
{"label":"Acetyl-CoA","x":595,"x2":651,"y":627,"y2":642,"cx":623,"cy":634.5,"state":"Decreased"},
{"label":"Malonyl-CoA","x":593,"x2":653,"y":673,"y2":689,"cx":623,"cy":681,"state":"N/A"},
{"label":"Acyl CoA","x":598,"x2":645,"y":843,"y2":862,"cx":621.5,"cy":852.5,"state":"N/A"}],
"f_ell":[{"name":"Gyk2","cx":314,"cy":536,"state":"Increased"},{"name":"Gpd2","cx":465,"cy":533,"state":"Decreased"},{"name":"Gpat1","cx":352,"cy":592,"state":"Decreased"},{"name":"Gpat4","cx":352,"cy":608,"state":"Decreased"},{"name":"Agpat4","cx":352,"cy":654,"state":"Increased"},{"name":"Agpat2","cx":353,"cy":674,"state":"Decreased"},{"name":"Lipin1","cx":354,"cy":739,"state":"Decreased"},{"name":"Ppap2c","cx":354,"cy":762,"state":"Increased"},{"name":"Dgat2","cx":357,"cy":813,"state":"Decreased"},{"name":"Mgll","cx":413,"cy":916,"state":"Decreased"},{"name":"Acly","cx":647,"cy":609,"state":"Decreased"},{"name":"Acacb","cx":599,"cy":656,"state":"Decreased"},{"name":"Acaca","cx":649,"cy":656,"state":"Decreased"},{"name":"Elovl1","cx":598,"cy":715,"state":"Increased"},{"name":"Elovl3","cx":598,"cy":735,"state":"Decreased"},{"name":"Elovl5","cx":598,"cy":754,"state":"Decreased"},{"name":"Elovl6","cx":598,"cy":773,"state":"Decreased"},{"name":"Fasn","cx":598,"cy":791,"state":"Decreased"},{"name":"Acsl1","cx":648,"cy":714,"state":"Decreased"},{"name":"Acsl5","cx":648,"cy":732,"state":"Decreased"},{"name":"Acss1","cx":648,"cy":751,"state":"Decreased"},{"name":"Acss2","cx":648,"cy":770,"state":"Decreased"},{"name":"Acss3","cx":648,"cy":788,"state":"Decreased"},{"name":"Scd1","cx":648,"cy":808,"state":"Decreased"}],
"f_text":[{"t":"A.","x":5,"y":17,"kind":"letter"},{"t":"B.","x":7,"y":180,"kind":"letter"},{"t":"C.","x":214,"y":15,"kind":"letter"},{"t":"D.","x":440,"y":15,"kind":"letter"},{"t":"E.","x":440,"y":112,"kind":"letter"},{"t":"F.","x":236,"y":460,"kind":"letter"},
{"t":"Triglyceride synthesis","x":265,"y":462,"kind":"hl"},{"t":"Triglyceride breakdown","x":264,"y":882,"kind":"hl"},
{"t":"From glycolysis\n(See Fig.4)","x":440,"y":450,"kind":"hc"},{"t":"Fatty acids\nfrom circulation","x":621,"y":511.5,"kind":"hc"},{"t":"Lipogenesis","x":620,"y":557,"kind":"hc"},{"t":"From TCA\ncycle\n(See Fig.6)","x":705,"y":589,"kind":"hc"},{"t":"To TCA cycle\n(See Figure 6)","x":672,"y":922,"kind":"hc"},
{"t":"p=0.06","x":406,"y":552,"kind":"pv"},{"t":"p=0.06","x":621,"y":575,"kind":"pv"},{"t":"p=0.10","x":603,"y":620,"kind":"pv"}]
},
"resolve":{"scale":{"x":"independent","y":"independent","color":"independent","fill":"independent"},"axis":{"x":"independent","y":"independent"},"legend":{"color":"independent","fill":"independent"}},
"layer":[
{"layer":[
 {"data":{"name":"a_cells"},"mark":{"type":"rect"},"encoding":{
  "x":{"field":"c","type":"ordinal","axis":null,"scale":{"range":[31,123],"paddingInner":0,"paddingOuter":0}},
  "y":{"field":"r","type":"ordinal","axis":null,"scale":{"range":[48,122],"paddingInner":0,"paddingOuter":0}},
  "color":{"field":"v","type":"quantitative","scale":{"type":"linear","domain":[-1,-0.5,0,0.5,1],"range":["#f4ef36","#99963c","#141414","#2b3587","#4a5bb9"],"interpolate":"rgb"},
   "legend":{"orient":"none","legendX":38,"legendY":140,"direction":"horizontal","gradientLength":86,"gradientThickness":13,"title":null,"labelExpr":"''","padding":0,"gradientStrokeColor":"#888888","gradientStrokeWidth":1}}}},
 {"data":{"values":[{}]},"mark":{"type":"rect","fill":"transparent","stroke":"#9a9a9a","strokeWidth":1},"encoding":{"x":{"datum":1,"type":"ordinal","bandPosition":0,"axis":null},"x2":{"datum":6,"bandPosition":1},"y":{"datum":1,"type":"ordinal","bandPosition":0,"axis":null},"y2":{"datum":5,"bandPosition":1}}},
 {"data":{"name":"a_rows"},"transform":[{"filter":"datum.sig == 1"}],"mark":{"type":"text","align":"left","baseline":"middle","dx":3,"fontSize":11,"fontWeight":"bold","color":"#222222"},"encoding":{"x":{"datum":6,"type":"ordinal","bandPosition":1,"axis":null},"y":{"field":"r","type":"ordinal","axis":null},"text":{"field":"name"}}},
 {"data":{"name":"a_rows"},"transform":[{"filter":"datum.sig == 0"}],"mark":{"type":"text","align":"left","baseline":"middle","dx":3,"fontSize":11,"color":"#333333"},"encoding":{"x":{"datum":6,"type":"ordinal","bandPosition":1,"axis":null},"y":{"field":"r","type":"ordinal","axis":null},"text":{"field":"name"}}},
 {"data":{"name":"a_rows"},"transform":[{"filter":"datum.p == '*'"}],"mark":{"type":"text","align":"right","baseline":"middle","dx":-4,"dy":2,"fontSize":13,"fontWeight":"bold","color":"#333333"},"encoding":{"x":{"datum":1,"type":"ordinal","bandPosition":0,"axis":null},"y":{"field":"r","type":"ordinal","axis":null},"text":{"field":"p"}}},
 {"data":{"name":"a_rows"},"transform":[{"filter":"datum.p != '*' && datum.p != ''"}],"mark":{"type":"text","align":"right","baseline":"middle","dx":-4,"fontSize":10.5,"color":"#333333"},"encoding":{"x":{"datum":1,"type":"ordinal","bandPosition":0,"axis":null},"y":{"field":"r","type":"ordinal","axis":null},"text":{"field":"p"}}},
 {"data":{"values":[{}]},"mark":{"type":"text","text":"Control","fontSize":11,"baseline":"middle","dy":-15,"color":"#333333"},"encoding":{"x":{"datum":2,"type":"ordinal","axis":null},"y":{"datum":1,"type":"ordinal","bandPosition":0,"axis":null}}},
 {"data":{"values":[{}]},"mark":{"type":"text","text":"Ad-Raptor","fontSize":11,"align":"right","baseline":"middle","dy":-15,"dx":0,"color":"#333333"},"encoding":{"x":{"datum":6,"type":"ordinal","bandPosition":1,"axis":null},"y":{"datum":1,"type":"ordinal","bandPosition":0,"axis":null}}},
 {"data":{"values":[{}]},"mark":{"type":"text","text":"KO","fontSize":7.5,"align":"left","baseline":"middle","dy":-19,"dx":0.5,"color":"#333333"},"encoding":{"x":{"datum":6,"type":"ordinal","bandPosition":1,"axis":null},"y":{"datum":1,"type":"ordinal","bandPosition":0,"axis":null}}},
 {"data":{"values":[{}]},"mark":{"type":"rule","color":"#999999","strokeWidth":1.5,"yOffset":-6,"x2Offset":-2},"encoding":{"x":{"datum":1,"type":"ordinal","bandPosition":0,"axis":null},"x2":{"datum":3,"bandPosition":1},"y":{"datum":1,"type":"ordinal","bandPosition":0,"axis":null}}},
 {"data":{"values":[{}]},"mark":{"type":"rule","color":"#999999","strokeWidth":1.5,"yOffset":-6},"encoding":{"x":{"datum":4,"type":"ordinal","bandPosition":0,"axis":null},"x2":{"datum":6,"bandPosition":1},"y":{"datum":1,"type":"ordinal","bandPosition":0,"axis":null}}},
 {"data":{"values":[{}]},"mark":{"type":"text","text":"-","fontSize":11,"baseline":"middle","dy":11,"color":"#555555"},"encoding":{"x":{"datum":1,"type":"ordinal","bandPosition":0.4,"axis":null},"y":{"datum":5,"type":"ordinal","bandPosition":1,"axis":null}}},
 {"data":{"values":[{}]},"mark":{"type":"text","text":"+","fontSize":11,"baseline":"middle","dy":11,"color":"#555555"},"encoding":{"x":{"datum":6,"type":"ordinal","bandPosition":0.95,"axis":null},"y":{"datum":5,"type":"ordinal","bandPosition":1,"axis":null}}}
]},
{"layer":[
 {"data":{"name":"b_cells"},"mark":{"type":"rect"},"encoding":{
  "x":{"field":"c","type":"ordinal","axis":null,"scale":{"range":[32,124],"paddingInner":0,"paddingOuter":0}},
  "y":{"field":"r","type":"ordinal","axis":null,"scale":{"range":[194,789.6],"paddingInner":0,"paddingOuter":0}},
  "color":{"field":"v","type":"quantitative","scale":{"type":"linear","domain":[-1,-0.5,0,0.5,1],"range":["#f4ef36","#99963c","#141414","#2b3587","#4a5bb9"],"interpolate":"rgb"},
   "legend":{"orient":"none","legendX":39,"legendY":807,"direction":"horizontal","gradientLength":86,"gradientThickness":13,"title":null,"labelExpr":"''","padding":0,"gradientStrokeColor":"#888888","gradientStrokeWidth":1}}}},
 {"data":{"values":[{}]},"mark":{"type":"rect","fill":"transparent","stroke":"#9a9a9a","strokeWidth":1},"encoding":{"x":{"datum":1,"type":"ordinal","bandPosition":0,"axis":null},"x2":{"datum":6,"bandPosition":1},"y":{"datum":1,"type":"ordinal","bandPosition":0,"axis":null},"y2":{"datum":40,"bandPosition":1}}},
 {"data":{"name":"b_rows"},"transform":[{"filter":"datum.sig == 1"}],"mark":{"type":"text","align":"left","baseline":"middle","dx":3,"fontSize":11,"fontWeight":"bold","color":"#222222"},"encoding":{"x":{"datum":6,"type":"ordinal","bandPosition":1,"axis":null},"y":{"field":"r","type":"ordinal","axis":null},"text":{"field":"name"}}},
 {"data":{"name":"b_rows"},"transform":[{"filter":"datum.sig == 0"}],"mark":{"type":"text","align":"left","baseline":"middle","dx":3,"fontSize":11,"color":"#333333"},"encoding":{"x":{"datum":6,"type":"ordinal","bandPosition":1,"axis":null},"y":{"field":"r","type":"ordinal","axis":null},"text":{"field":"name"}}},
 {"data":{"name":"b_rows"},"transform":[{"filter":"datum.p == '*'"}],"mark":{"type":"text","align":"right","baseline":"middle","dx":-5,"dy":2,"fontSize":13,"fontWeight":"bold","color":"#333333"},"encoding":{"x":{"datum":1,"type":"ordinal","bandPosition":0,"axis":null},"y":{"field":"r","type":"ordinal","axis":null},"text":{"field":"p"}}},
 {"data":{"name":"b_rows"},"transform":[{"filter":"datum.p != '*' && datum.p != ''"}],"mark":{"type":"text","align":"right","baseline":"middle","dx":-4,"fontSize":10.5,"color":"#333333"},"encoding":{"x":{"datum":1,"type":"ordinal","bandPosition":0,"axis":null},"y":{"field":"r","type":"ordinal","axis":null},"text":{"field":"p"}}},
 {"data":{"values":[{}]},"mark":{"type":"text","text":"Control","fontSize":11,"baseline":"middle","dy":-13,"color":"#333333"},"encoding":{"x":{"datum":2,"type":"ordinal","axis":null},"y":{"datum":1,"type":"ordinal","bandPosition":0,"axis":null}}},
 {"data":{"values":[{}]},"mark":{"type":"text","text":"Ad-Raptor","fontSize":11,"align":"right","baseline":"middle","dy":-13,"dx":4,"color":"#333333"},"encoding":{"x":{"datum":6,"type":"ordinal","bandPosition":1,"axis":null},"y":{"datum":1,"type":"ordinal","bandPosition":0,"axis":null}}},
 {"data":{"values":[{}]},"mark":{"type":"text","text":"KO","fontSize":7.5,"align":"left","baseline":"middle","dy":-17,"dx":4.5,"color":"#333333"},"encoding":{"x":{"datum":6,"type":"ordinal","bandPosition":1,"axis":null},"y":{"datum":1,"type":"ordinal","bandPosition":0,"axis":null}}},
 {"data":{"values":[{}]},"mark":{"type":"rule","color":"#999999","strokeWidth":1.5,"yOffset":-6,"x2Offset":-2},"encoding":{"x":{"datum":1,"type":"ordinal","bandPosition":0,"axis":null},"x2":{"datum":3,"bandPosition":1},"y":{"datum":1,"type":"ordinal","bandPosition":0,"axis":null}}},
 {"data":{"values":[{}]},"mark":{"type":"rule","color":"#999999","strokeWidth":1.5,"yOffset":-6},"encoding":{"x":{"datum":4,"type":"ordinal","bandPosition":0,"axis":null},"x2":{"datum":6,"bandPosition":1},"y":{"datum":1,"type":"ordinal","bandPosition":0,"axis":null}}},
 {"data":{"values":[{}]},"mark":{"type":"text","text":"-","fontSize":11,"baseline":"middle","dy":11,"color":"#555555"},"encoding":{"x":{"datum":1,"type":"ordinal","bandPosition":0.4,"axis":null},"y":{"datum":40,"type":"ordinal","bandPosition":1,"axis":null}}},
 {"data":{"values":[{}]},"mark":{"type":"text","text":"+","fontSize":11,"baseline":"middle","dy":11,"color":"#555555"},"encoding":{"x":{"datum":6,"type":"ordinal","bandPosition":0.95,"axis":null},"y":{"datum":40,"type":"ordinal","bandPosition":1,"axis":null}}}
]},
{"layer":[
 {"data":{"name":"c_cells"},"mark":{"type":"rect"},"encoding":{
  "x":{"field":"c","type":"ordinal","axis":null,"scale":{"range":[260,375],"paddingInner":0,"paddingOuter":0}},
  "y":{"field":"r","type":"ordinal","axis":null,"scale":{"range":[35,392.5],"paddingInner":0,"paddingOuter":0}},
  "color":{"field":"v","type":"quantitative","scale":{"type":"linear","domain":[-1,-0.5,0,0.5,1],"range":["#f4ef36","#99963c","#141414","#2b3587","#4a5bb9"],"interpolate":"rgb"},
   "legend":{"orient":"none","legendX":273,"legendY":407,"direction":"horizontal","gradientLength":85,"gradientThickness":13,"title":null,"labelExpr":"''","padding":0,"gradientStrokeColor":"#888888","gradientStrokeWidth":1}}}},
 {"data":{"values":[{}]},"mark":{"type":"rect","fill":"transparent","stroke":"#9a9a9a","strokeWidth":1},"encoding":{"x":{"datum":1,"type":"ordinal","bandPosition":0,"axis":null},"x2":{"datum":8,"bandPosition":1},"y":{"datum":1,"type":"ordinal","bandPosition":0,"axis":null},"y2":{"datum":25,"bandPosition":1}}},
 {"data":{"name":"c_rows"},"transform":[{"filter":"datum.sig == 1"}],"mark":{"type":"text","align":"left","baseline":"middle","dx":3,"fontSize":11,"fontWeight":"bold","fontStyle":"italic","color":"#222222"},"encoding":{"x":{"datum":8,"type":"ordinal","bandPosition":1,"axis":null},"y":{"field":"r","type":"ordinal","axis":null},"text":{"field":"name"}}},
 {"data":{"name":"c_rows"},"transform":[{"filter":"datum.sig == 0"}],"mark":{"type":"text","align":"left","baseline":"middle","dx":3,"fontSize":11,"fontStyle":"italic","color":"#333333"},"encoding":{"x":{"datum":8,"type":"ordinal","bandPosition":1,"axis":null},"y":{"field":"r","type":"ordinal","axis":null},"text":{"field":"name"}}},
 {"data":{"name":"c_rows"},"transform":[{"filter":"datum.p == '*'"}],"mark":{"type":"text","align":"right","baseline":"middle","dx":-3,"dy":2,"fontSize":13,"fontWeight":"bold","color":"#333333"},"encoding":{"x":{"datum":1,"type":"ordinal","bandPosition":0,"axis":null},"y":{"field":"r","type":"ordinal","axis":null},"text":{"field":"p"}}},
 {"data":{"values":[{}]},"mark":{"type":"text","text":"Control","fontSize":11,"baseline":"middle","dy":-11,"dx":-4,"color":"#333333"},"encoding":{"x":{"datum":2,"type":"ordinal","bandPosition":1,"axis":null},"y":{"datum":1,"type":"ordinal","bandPosition":0,"axis":null}}},
 {"data":{"values":[{}]},"mark":{"type":"text","text":"Ad-Raptor","fontSize":11,"align":"right","baseline":"middle","dy":-11,"dx":-12,"color":"#333333"},"encoding":{"x":{"datum":8,"type":"ordinal","bandPosition":1,"axis":null},"y":{"datum":1,"type":"ordinal","bandPosition":0,"axis":null}}},
 {"data":{"values":[{}]},"mark":{"type":"text","text":"KO","fontSize":7.5,"align":"left","baseline":"middle","dy":-15,"dx":-8,"color":"#333333"},"encoding":{"x":{"datum":8,"type":"ordinal","bandPosition":1,"axis":null},"y":{"datum":1,"type":"ordinal","bandPosition":0,"axis":null}}},
 {"data":{"values":[{}]},"mark":{"type":"rule","color":"#999999","strokeWidth":1.5,"yOffset":-3,"x2Offset":-2},"encoding":{"x":{"datum":1,"type":"ordinal","bandPosition":0,"axis":null},"x2":{"datum":4,"bandPosition":1},"y":{"datum":1,"type":"ordinal","bandPosition":0,"axis":null}}},
 {"data":{"values":[{}]},"mark":{"type":"rule","color":"#999999","strokeWidth":1.5,"yOffset":-3},"encoding":{"x":{"datum":5,"type":"ordinal","bandPosition":0,"axis":null},"x2":{"datum":8,"bandPosition":1},"y":{"datum":1,"type":"ordinal","bandPosition":0,"axis":null}}},
 {"data":{"values":[{}]},"mark":{"type":"text","text":"-","fontSize":11,"baseline":"middle","dy":8,"color":"#555555"},"encoding":{"x":{"datum":1,"type":"ordinal","bandPosition":0.9,"axis":null},"y":{"datum":25,"type":"ordinal","bandPosition":1,"axis":null}}},
 {"data":{"values":[{}]},"mark":{"type":"text","text":"+","fontSize":11,"baseline":"middle","dy":8,"color":"#555555"},"encoding":{"x":{"datum":7,"type":"ordinal","bandPosition":0.75,"axis":null},"y":{"datum":25,"type":"ordinal","bandPosition":1,"axis":null}}}
]},
{"layer":[
 {"data":{"name":"d_cells"},"mark":{"type":"rect"},"encoding":{
  "x":{"field":"c","type":"ordinal","axis":null,"scale":{"range":[463,553],"paddingInner":0,"paddingOuter":0}},
  "y":{"field":"r","type":"ordinal","axis":null,"scale":{"range":[35,63],"paddingInner":0,"paddingOuter":0}},
  "color":{"field":"v","type":"quantitative","scale":{"type":"linear","domain":[-1,-0.5,0,0.5,1],"range":["#f4ef36","#99963c","#141414","#2b3587","#4a5bb9"],"interpolate":"rgb"},
   "legend":{"orient":"none","legendX":463,"legendY":77,"direction":"horizontal","gradientLength":89,"gradientThickness":11,"title":null,"labelExpr":"''","padding":0,"gradientStrokeColor":"#888888","gradientStrokeWidth":1}}}},
 {"data":{"values":[{}]},"mark":{"type":"rect","fill":"transparent","stroke":"#9a9a9a","strokeWidth":1},"encoding":{"x":{"datum":1,"type":"ordinal","bandPosition":0,"axis":null},"x2":{"datum":6,"bandPosition":1},"y":{"datum":1,"type":"ordinal","bandPosition":0,"axis":null},"y2":{"datum":2,"bandPosition":1}}},
 {"data":{"name":"d_rows"},"mark":{"type":"text","align":"left","baseline":"middle","dx":5,"fontSize":11,"color":"#333333"},"encoding":{"x":{"datum":6,"type":"ordinal","bandPosition":1,"axis":null},"y":{"field":"r","type":"ordinal","axis":null},"text":{"field":"name"}}},
 {"data":{"name":"d_rows"},"mark":{"type":"text","align":"right","baseline":"middle","dx":-3,"fontSize":10.5,"fontStyle":"italic","color":"#333333"},"encoding":{"x":{"datum":1,"type":"ordinal","bandPosition":0,"axis":null},"y":{"field":"r","type":"ordinal","axis":null},"text":{"field":"p"}}},
 {"data":{"values":[{}]},"mark":{"type":"text","text":"Control","fontSize":11,"baseline":"middle","dy":-11,"color":"#333333"},"encoding":{"x":{"datum":2,"type":"ordinal","axis":null},"y":{"datum":1,"type":"ordinal","bandPosition":0,"axis":null}}},
 {"data":{"values":[{}]},"mark":{"type":"text","text":"Ad-Raptor","fontSize":11,"align":"right","baseline":"middle","dy":-11,"dx":4,"color":"#333333"},"encoding":{"x":{"datum":6,"type":"ordinal","bandPosition":1,"axis":null},"y":{"datum":1,"type":"ordinal","bandPosition":0,"axis":null}}},
 {"data":{"values":[{}]},"mark":{"type":"text","text":"KO","fontSize":7.5,"align":"left","baseline":"middle","dy":-15,"dx":4.5,"color":"#333333"},"encoding":{"x":{"datum":6,"type":"ordinal","bandPosition":1,"axis":null},"y":{"datum":1,"type":"ordinal","bandPosition":0,"axis":null}}},
 {"data":{"values":[{}]},"mark":{"type":"rule","color":"#999999","strokeWidth":1.5,"yOffset":-3,"x2Offset":-2},"encoding":{"x":{"datum":1,"type":"ordinal","bandPosition":0,"axis":null},"x2":{"datum":3,"bandPosition":1},"y":{"datum":1,"type":"ordinal","bandPosition":0,"axis":null}}},
 {"data":{"values":[{}]},"mark":{"type":"rule","color":"#999999","strokeWidth":1.5,"yOffset":-3},"encoding":{"x":{"datum":4,"type":"ordinal","bandPosition":0,"axis":null},"x2":{"datum":6,"bandPosition":1},"y":{"datum":1,"type":"ordinal","bandPosition":0,"axis":null}}},
 {"data":{"values":[{}]},"mark":{"type":"text","text":"-","fontSize":11,"baseline":"middle","dy":7,"color":"#555555"},"encoding":{"x":{"datum":1,"type":"ordinal","bandPosition":0.1,"axis":null},"y":{"datum":2,"type":"ordinal","bandPosition":1,"axis":null}}},
 {"data":{"values":[{}]},"mark":{"type":"text","text":"+","fontSize":11,"baseline":"middle","dy":7,"color":"#555555"},"encoding":{"x":{"datum":6,"type":"ordinal","bandPosition":0.67,"axis":null},"y":{"datum":2,"type":"ordinal","bandPosition":1,"axis":null}}}
]},
{"layer":[
 {"data":{"name":"e_cells"},"mark":{"type":"rect"},"encoding":{
  "x":{"field":"c","type":"ordinal","axis":null,"scale":{"range":[462,577],"paddingInner":0,"paddingOuter":0}},
  "y":{"field":"r","type":"ordinal","axis":null,"scale":{"range":[132,348],"paddingInner":0,"paddingOuter":0}},
  "color":{"field":"v","type":"quantitative","scale":{"type":"linear","domain":[-1,-0.5,0,0.5,1],"range":["#f4ef36","#99963c","#141414","#2b3587","#4a5bb9"],"interpolate":"rgb"},
   "legend":{"orient":"none","legendX":477,"legendY":375,"direction":"horizontal","gradientLength":86,"gradientThickness":13,"title":null,"labelExpr":"''","padding":0,"gradientStrokeColor":"#888888","gradientStrokeWidth":1}}}},
 {"data":{"values":[{}]},"mark":{"type":"rect","fill":"transparent","stroke":"#9a9a9a","strokeWidth":1},"encoding":{"x":{"datum":1,"type":"ordinal","bandPosition":0,"axis":null},"x2":{"datum":8,"bandPosition":1},"y":{"datum":1,"type":"ordinal","bandPosition":0,"axis":null},"y2":{"datum":16,"bandPosition":1}}},
 {"data":{"values":[{}]},"mark":{"type":"rule","color":"#aaaaaa","strokeWidth":1},"encoding":{"x":{"datum":1,"type":"ordinal","bandPosition":0,"axis":null},"x2":{"datum":8,"bandPosition":1},"y":{"datum":9,"type":"ordinal","bandPosition":0,"axis":null}}},
 {"data":{"name":"e_rows"},"transform":[{"filter":"datum.sig == 1"}],"mark":{"type":"text","align":"left","baseline":"middle","dx":2,"fontSize":11,"fontWeight":"bold","fontStyle":"italic","color":"#222222"},"encoding":{"x":{"datum":8,"type":"ordinal","bandPosition":1,"axis":null},"y":{"field":"r","type":"ordinal","axis":null},"text":{"field":"name"}}},
 {"data":{"name":"e_rows"},"transform":[{"filter":"datum.sig == 0"}],"mark":{"type":"text","align":"left","baseline":"middle","dx":2,"fontSize":11,"fontStyle":"italic","color":"#333333"},"encoding":{"x":{"datum":8,"type":"ordinal","bandPosition":1,"axis":null},"y":{"field":"r","type":"ordinal","axis":null},"text":{"field":"name"}}},
 {"data":{"values":[{}]},"mark":{"type":"text","text":"Control","fontSize":11,"baseline":"middle","dy":-12,"dx":-3,"color":"#333333"},"encoding":{"x":{"datum":2,"type":"ordinal","bandPosition":1,"axis":null},"y":{"datum":1,"type":"ordinal","bandPosition":0,"axis":null}}},
 {"data":{"values":[{}]},"mark":{"type":"text","text":"Ad-Raptor","fontSize":11,"align":"right","baseline":"middle","dy":-12,"dx":-10,"color":"#333333"},"encoding":{"x":{"datum":8,"type":"ordinal","bandPosition":1,"axis":null},"y":{"datum":1,"type":"ordinal","bandPosition":0,"axis":null}}},
 {"data":{"values":[{}]},"mark":{"type":"text","text":"KO","fontSize":7.5,"align":"left","baseline":"middle","dy":-16,"dx":-8,"color":"#333333"},"encoding":{"x":{"datum":8,"type":"ordinal","bandPosition":1,"axis":null},"y":{"datum":1,"type":"ordinal","bandPosition":0,"axis":null}}},
 {"data":{"values":[{}]},"mark":{"type":"rule","color":"#999999","strokeWidth":1.5,"yOffset":-5,"x2Offset":-2},"encoding":{"x":{"datum":1,"type":"ordinal","bandPosition":0,"axis":null},"x2":{"datum":4,"bandPosition":1},"y":{"datum":1,"type":"ordinal","bandPosition":0,"axis":null}}},
 {"data":{"values":[{}]},"mark":{"type":"rule","color":"#999999","strokeWidth":1.5,"yOffset":-5},"encoding":{"x":{"datum":5,"type":"ordinal","bandPosition":0,"axis":null},"x2":{"datum":8,"bandPosition":1},"y":{"datum":1,"type":"ordinal","bandPosition":0,"axis":null}}},
 {"data":{"values":[{}]},"mark":{"type":"text","text":"-","fontSize":11,"baseline":"middle","dy":20,"color":"#555555"},"encoding":{"x":{"datum":2,"type":"ordinal","bandPosition":0.05,"axis":null},"y":{"datum":16,"type":"ordinal","bandPosition":1,"axis":null}}},
 {"data":{"values":[{}]},"mark":{"type":"text","text":"+","fontSize":11,"baseline":"middle","dy":20,"color":"#555555"},"encoding":{"x":{"datum":7,"type":"ordinal","bandPosition":0.8,"axis":null},"y":{"datum":16,"type":"ordinal","bandPosition":1,"axis":null}}}
]},
{"layer":[
 {"data":{"name":"f_bg"},"transform":[{"filter":"datum.kind == 'synthesis'"}],"mark":{"type":"rect","color":"#d5d5d7"},"encoding":{
  "x":{"field":"x","type":"quantitative","axis":null,"scale":{"domain":[0,787],"range":[0,787],"nice":false,"zero":false}},
  "x2":{"field":"x2"},
  "y":{"field":"y","type":"quantitative","axis":null,"scale":{"domain":[0,977],"range":[0,977],"nice":false,"zero":false}},
  "y2":{"field":"y2"}}},
 {"data":{"name":"f_bg"},"transform":[{"filter":"datum.kind != 'synthesis'"}],"mark":{"type":"rect","color":"#e8e8ea"},"encoding":{
  "x":{"field":"x","type":"quantitative","axis":null},"x2":{"field":"x2"},"y":{"field":"y","type":"quantitative","axis":null},"y2":{"field":"y2"}}},
 {"data":{"name":"f_lines"},"mark":{"type":"rule","color":"#333333","strokeWidth":1.2},"encoding":{
  "x":{"field":"x","type":"quantitative","axis":null},"x2":{"field":"x2"},"y":{"field":"y","type":"quantitative","axis":null},"y2":{"field":"y2"},
  "strokeDash":{"condition":{"test":"datum.style == 'dashed'","value":[4,3]},"value":[1,0]}}},
 {"data":{"name":"f_heads"},"mark":{"type":"point","shape":"triangle","filled":true,"color":"#111111","size":60,"opacity":1},"encoding":{
  "x":{"field":"x","type":"quantitative","axis":null},"y":{"field":"y","type":"quantitative","axis":null},
  "angle":{"field":"a","type":"quantitative","scale":{"domain":[0,360],"range":[0,360]},"legend":null}}},
 {"data":{"name":"f_circ"},"mark":{"type":"point","shape":"circle","filled":true,"fill":"#ffffff","stroke":"#444444","strokeWidth":1.2,"size":55,"opacity":1},"encoding":{
  "x":{"field":"x","type":"quantitative","axis":null},"y":{"field":"y","type":"quantitative","axis":null}}},
 {"data":{"name":"f_boxes"},"mark":{"type":"rect","stroke":"#444444","strokeWidth":1},"encoding":{
  "x":{"field":"x","type":"quantitative","axis":null},"x2":{"field":"x2"},"y":{"field":"y","type":"quantitative","axis":null},"y2":{"field":"y2"},
  "fill":{"field":"state","type":"nominal","scale":{"domain":["N/A","No change","Decreased","Increased"],"range":["#ffffff","#000000","#f2ea36","#6c87c6"]},
   "legend":{"orient":"none","legendX":709,"legendY":648,"title":null,"symbolType":"square","symbolSize":300,"symbolStrokeColor":"#555555","symbolStrokeWidth":1,"symbolOpacity":1,"labelFontSize":11,"labelColor":"#333333","labelFont":"Liberation Sans","rowPadding":4.5,"labelOffset":4,"padding":0}}}},
 {"data":{"name":"f_boxes"},"mark":{"type":"text","fontSize":9,"fontWeight":"bold","baseline":"middle","lineBreak":"\n","lineHeight":11,"color":"#333333"},"encoding":{
  "x":{"field":"cx","type":"quantitative","axis":null},"y":{"field":"cy","type":"quantitative","axis":null},"text":{"field":"label"},
  "color":{"condition":{"test":"datum.state == 'No change'","value":"#ffffff"},"value":"#333333"}}},
 {"data":{"name":"f_ell"},"mark":{"type":"point","shape":"M-1,0A1,0.52,0,1,1,1,0A1,0.52,0,1,1,-1,0Z","filled":true,"stroke":"#3a3a3a","strokeWidth":1,"size":1850,"opacity":1},"encoding":{
  "x":{"field":"cx","type":"quantitative","axis":null},"y":{"field":"cy","type":"quantitative","axis":null},
  "fill":{"field":"state","type":"nominal"}}},
 {"data":{"name":"f_ell"},"mark":{"type":"text","fontSize":10,"fontStyle":"italic","baseline":"middle","color":"#333333"},"encoding":{
  "x":{"field":"cx","type":"quantitative","axis":null},"y":{"field":"cy","type":"quantitative","axis":null},"text":{"field":"name"}}},
 {"data":{"name":"f_text"},"transform":[{"filter":"datum.kind == 'letter'"}],"mark":{"type":"text","fontSize":24,"fontWeight":"bold","align":"left","baseline":"middle","color":"#222222"},"encoding":{
  "x":{"field":"x","type":"quantitative","axis":null},"y":{"field":"y","type":"quantitative","axis":null},"text":{"field":"t"}}},
 {"data":{"name":"f_text"},"transform":[{"filter":"datum.kind == 'hl'"}],"mark":{"type":"text","fontSize":11,"fontWeight":"bold","align":"left","baseline":"middle","color":"#333333"},"encoding":{
  "x":{"field":"x","type":"quantitative","axis":null},"y":{"field":"y","type":"quantitative","axis":null},"text":{"field":"t"}}},
 {"data":{"name":"f_text"},"transform":[{"filter":"datum.kind == 'hc'"}],"mark":{"type":"text","fontSize":11,"fontWeight":"bold","align":"center","baseline":"middle","lineBreak":"\n","lineHeight":14,"color":"#333333"},"encoding":{
  "x":{"field":"x","type":"quantitative","axis":null},"y":{"field":"y","type":"quantitative","axis":null},"text":{"field":"t"}}},
 {"data":{"name":"f_text"},"transform":[{"filter":"datum.kind == 'pv'"}],"mark":{"type":"text","fontSize":8.5,"fontStyle":"italic","align":"center","baseline":"middle","color":"#444444"},"encoding":{
  "x":{"field":"x","type":"quantitative","axis":null},"y":{"field":"y","type":"quantitative","axis":null},"text":{"field":"t"}}}
]}
]
}
